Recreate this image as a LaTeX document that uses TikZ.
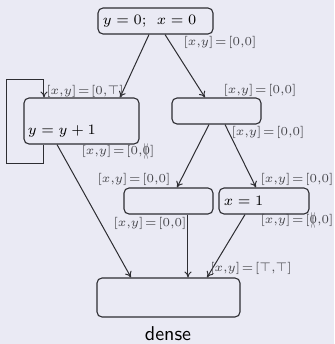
\RequirePackage{fix-cm}
\documentclass[tikz,border=0pt]{standalone}
\usepackage{mathtools}
\usetikzlibrary{arrows.meta, positioning, calc}

\definecolor{slidebg}{RGB}{234,234,244}
\definecolor{boxline}{RGB}{45,45,50}
\definecolor{annot}{RGB}{70,70,75}

% crossed-out zero used in the annotations
\newcommand{\xzero}{\ooalign{$0$\cr\hfil\raisebox{-0.33em}{\scalebox{0.5}[2.3]{$\times$}}\hfil\cr}}
% tight math for the abstract states
\newcommand{\stm}[1]{$\thickmuskip=2mu\relax\medmuskip=1mu\relax\thinmuskip=0mu\relax #1$}

\begin{document}
\begin{tikzpicture}[
		x=0.5pt, y=-0.5pt,
		% --- box styles ---
		stmt/.style = {draw=boxline, rectangle, rounded corners=2.5pt, line width=0.55pt, minimum width=44.5pt, minimum height=13pt, inner sep=0pt},
		wide_stmt/.style = {stmt, minimum width=57.5pt},
		code/.style = {inner sep=0pt, font=\fontsize{7.2}{8}\selectfont},
		% --- annotation styles ---
		state/.style = {text=annot, inner sep=0pt, font=\fontsize{6.1}{7}\selectfont},
		flow/.style = {->, line width=0.5pt, boxline},
		>={To[length=3pt, width=3.6pt]}
		]
		
		% background of the slide
		\fill[slidebg] (0,0) rectangle (334,344);
		\useasboundingbox (0,0) rectangle (334,344);
		
		% =====================================================
		% 1. STATEMENT BOXES
		% =====================================================
		\node [wide_stmt, label={[code, anchor=west, xshift=2.5pt]west:$y=0;\;\,x=0$}] (init) at (155.5,21) {};
		\node [wide_stmt, minimum height=23pt,
			label={[code, anchor=south west, xshift=2pt, yshift=3.5pt]south west:$y=y+1$}]
			(incr) at (81.5,121) {};
		\node [stmt] (branch) at (216.5,111) {};
		\node [stmt] (skip) at (168.5,201) {};
		\node [stmt, minimum width=45pt, label={[code, anchor=west, xshift=2.5pt]west:$x=1$}] (setx) at (264,201) {};
		\node [stmt, minimum width=71.5pt, minimum height=19.5pt] (join) at (168.5,297.5) {};
		
		\node [font=\sffamily\fontsize{10}{12}\selectfont, text=black] (title) at (168,334) {dense};
		
		% =====================================================
		% 2. CONNECTORS
		% =====================================================
		\draw [flow] ($(init.south)+(-6.5,0)$) -- ($(incr.north)+(38.5,0)$);
		\draw [flow] ($(init.south)+(9.5,0)$) -- ($(branch.north)+(-11.5,0)$);
		
		% self loop of the increment
		\draw [flow] ($(incr.south)+(-37.5,0)$) -- ++(0,19) -| ++(-37,-84) -| ($(incr.north)+(-37.5,0)$);
		
		\draw [flow] ($(branch.south)+(-7.5,0)$) -- ($(skip.north)+(8.5,0)$);
		\draw [flow] ($(branch.south)+(8.5,0)$) -- ($(setx.north)+(-8,0)$);
		
		\draw [flow] ($(incr.south)+(-24.5,0)$) -- ($(join.north)+(-37.5,0)$);
		\draw [flow] ($(skip.south)+(19.5,0)$) -- ($(join.north)+(19.5,0)$);
		\draw [flow] ($(setx.south)+(-19,0)$) -- ($(join.north)+(38.5,0)$);
		
		% =====================================================
		% 3. ABSTRACT STATES
		% =====================================================
		\node [state] (s_init) at (220,42) {\stm{[x,y]=[0,0]}};
		\node [state] (s_loop) at (85,91) {\stm{[x,y]=[0,\top]}};
		\node [state] (s_bin) at (260,90) {\stm{[x,y]=[0,0]}};
		\node [state] (s_bout) at (268,132) {\stm{[x,y]=[0,0]}};
		\node [state] (s_incr) at (118,154) {\stm{[x,y]=[0,\xzero]}};
		\node [state] (s_skipin) at (134,179) {\stm{[x,y]=[0,0]}};
		\node [state] (s_setin) at (297,179) {\stm{[x,y]=[0,0]}};
		\node [state] (s_skipout) at (150,223) {\stm{[x,y]=[0,0]}};
		\node [state] (s_setout) at (297,223) {\stm{[x,y]=[\xzero,0]}};
		\node [state] (s_join) at (251,268) {\stm{[x,y]=[\top,\top]}};
		
	\end{tikzpicture}
\end{document}
